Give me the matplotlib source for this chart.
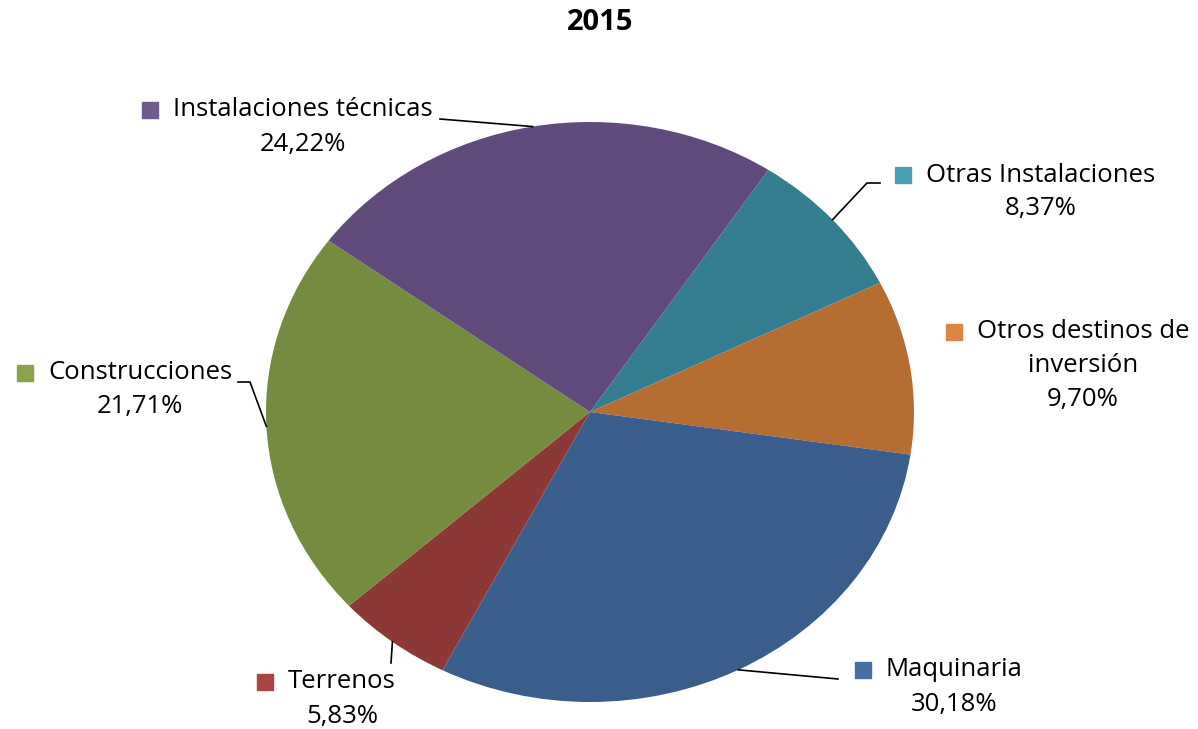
import numpy as np
import matplotlib.pyplot as plt

# Datos del gráfico (porcentajes 2015)
categorias = ['Otras Instalaciones', 'Otros destinos de\ninversión', 'Maquinaria',
              'Terrenos', 'Construcciones', 'Instalaciones técnicas']
valores = [8.37, 9.70, 30.18, 5.83, 21.71, 24.22]
etiquetas_pct = ['8,37%', '9,70%', '30,18%', '5,83%', '21,71%', '24,22%']

colores = ['#357D91', '#B66D31', '#3A5E8C', '#8C3836', '#758C40', '#604A7B']
colores_clave = ['#4A9FB5', '#DE8444', '#4670A5', '#A84442', '#8AA34A', '#6F5A8E']

plt.rcParams['font.family'] = ['Open Sans', 'DejaVu Sans']

W, H = 1198, 729
fig = plt.figure(figsize=(W / 100, H / 100), dpi=100)
ax = fig.add_axes([0, 0, 1, 1])

# centro y radios del pie en pixeles (elipse)
cx, cy, rx, ry = 590, 412, 324, 290

inicio = 90 - 33.4
wedges, _ = ax.pie(valores, colors=colores, startangle=inicio, counterclock=False,
                   radius=1, center=(0, 0), frame=True)
ax.set_xlim(-cx / rx, (W - cx) / rx)
ax.set_ylim(-(H - cy) / ry, cy / ry)
ax.set_aspect('auto')
ax.axis('off')


def px(x, y):
    # pixel (origen arriba-izq) -> datos
    return (x - cx) / rx, (cy - y) / ry


# posiciones de las etiquetas (centro de la primera linea, pixeles)
pos_etiquetas = [(1041, 175), (1083, 332), (954, 670), (342, 682), (140, 373), (303, 110)]
# primer punto de la linea guia (pixeles), None si no hay
guia = [[(880, 183), (867, 183)], None, [(838, 679)], [(391, 663)], [(238, 382), (250, 382)], [(440, 119)]]

fig.canvas.draw()
ren = fig.canvas.get_renderer()
inv = ax.transData.inverted()
paso = 34
for i, w in enumerate(wedges):
    lx, ly = pos_etiquetas[i]
    lineas = categorias[i].split('\n')
    t0 = None
    for k, ln in enumerate(lineas):
        t = ax.text(*px(lx, ly + k * paso), ln, ha='center', va='center', fontsize=18.5,
                    color='black')
        if k == 0:
            t0 = t
    ax.text(*px(lx, ly + len(lineas) * paso), etiquetas_pct[i], ha='center', va='center',
            fontsize=18.5, color='black')
    bb = t0.get_window_extent(renderer=ren)
    x0, y0 = inv.transform((bb.x0 - 23, (bb.y0 + bb.y1) / 2))
    ax.plot([x0], [y0], marker='s', markersize=12, color=colores_clave[i],
            linestyle='none')
    if guia[i] is not None:
        ang = np.deg2rad((w.theta1 + w.theta2) / 2)
        ex, ey = np.cos(ang), np.sin(ang)
        pts = [px(*p) for p in guia[i]] + [(ex, ey)]
        ax.plot([p[0] for p in pts], [p[1] for p in pts], color='black', lw=1.2)

ax.text(*px(600, 22), '2015', ha='center', va='center', fontsize=21, fontweight='bold')

fig.savefig('out.png', dpi=100)
